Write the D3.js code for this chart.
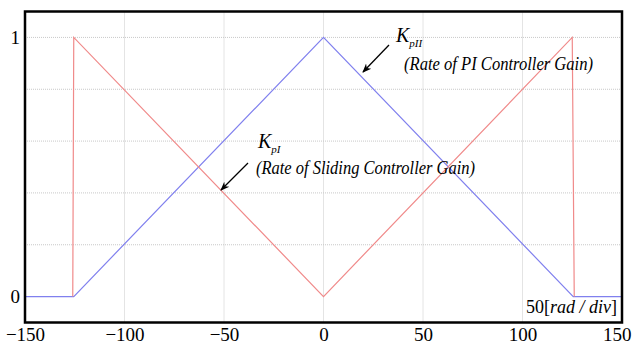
<!DOCTYPE html>
<html>
<head>
<meta charset="utf-8">
<script src="https://cdn.jsdelivr.net/npm/d3@7"></script>
<style>
  body { margin: 0; background: #fff; }
  svg { display: block; }
</style>
</head>
<body>
<div id="chart"></div>
<script>
// data
const xTicks = [-150, -100, -50, 0, 50, 100, 150];
const yTicks = [0, 1];
const yGrid = [0.2, 0.4, 0.6, 0.8, 1.0];
const xGrid = [-100, -50, 0, 50, 100];

// K_pII, rate of PI controller gain
const piX = [-150, -125.5, 0, 125.5, 150];
const piY = [0, 0, 1, 0, 0];
// K_pI, rate of sliding controller gain
const slX = [-126, -125.5, 0, 125, 126];
const slY = [0, 1, 0, 1, 0];

const width = 632, height = 345;
const plotLeft = 25, plotRight = 622, plotTop = 11.5, plotBottom = 322.5;
const serif = "Liberation Serif";

const svg = d3.select("#chart").append("svg")
  .attr("width", width)
  .attr("height", height);

const x = d3.scaleLinear().domain([-150, 150]).range([plotLeft, plotRight]);
const y = d3.scaleLinear().domain([-0.1, 1.1]).range([plotBottom, plotTop]);

// dotted grid
svg.append("g")
  .selectAll("line")
  .data(xGrid)
  .enter().append("line")
  .attr("x1", d => x(d)).attr("x2", d => x(d))
  .attr("y1", plotTop).attr("y2", plotBottom)
  .attr("stroke", "#c8c8c8")
  .attr("stroke-width", 1)
  .attr("stroke-dasharray", "1,1");

svg.append("g")
  .selectAll("line")
  .data(yGrid)
  .enter().append("line")
  .attr("x1", plotLeft).attr("x2", plotRight)
  .attr("y1", d => y(d)).attr("y2", d => y(d))
  .attr("stroke", "#c8c8c8")
  .attr("stroke-width", 1)
  .attr("stroke-dasharray", "1,1");

const line = d3.line().x(d => x(d[0])).y(d => y(d[1]));

svg.append("path")
  .datum(d3.zip(piX, piY))
  .attr("d", line)
  .attr("fill", "none")
  .attr("stroke", "#8080ee")
  .attr("stroke-width", 1.2);

svg.append("path")
  .datum(d3.zip(slX, slY))
  .attr("d", line)
  .attr("fill", "none")
  .attr("stroke", "#f08a8a")
  .attr("stroke-width", 1.2);

// frame
svg.append("rect")
  .attr("x", plotLeft).attr("y", plotTop)
  .attr("width", plotRight - plotLeft).attr("height", plotBottom - plotTop)
  .attr("fill", "none")
  .attr("stroke", "#000")
  .attr("stroke-width", 2.5);

const fmt = d => d < 0 ? "\u2212" + Math.abs(d) : String(d);

const xAxis = svg.append("g")
  .attr("transform", "translate(0," + plotBottom + ")")
  .call(d3.axisBottom(x).tickValues(xTicks).tickSize(0).tickPadding(5).tickFormat(fmt));
xAxis.select(".domain").remove();
xAxis.selectAll("text")
  .style("font-family", serif)
  .style("font-size", "19px")
  .attr("fill", "#000");
// the last label sits against the right edge of the page
xAxis.selectAll(".tick").filter(d => d === 150).select("text")
  .attr("text-anchor", "end").attr("x", 9);

const yAxis = svg.append("g")
  .attr("transform", "translate(" + plotLeft + ",0)")
  .call(d3.axisLeft(y).tickValues(yTicks).tickSize(0).tickPadding(5).tickFormat(fmt));
yAxis.select(".domain").remove();
yAxis.selectAll("text")
  .style("font-family", serif)
  .style("font-size", "19px")
  .attr("fill", "#000");

// annotations
svg.append("defs").append("marker")
  .attr("id", "head")
  .attr("viewBox", "0 0 10 10")
  .attr("refX", 9).attr("refY", 5)
  .attr("markerWidth", 7).attr("markerHeight", 7)
  .attr("orient", "auto")
  .append("path")
  .attr("d", "M0,1 L10,5 L0,9 L3,5 Z")
  .attr("fill", "#000");

function note(kx, ky, sub, tx, ty, text, tw, ax1, ay1, ax2, ay2) {
  const k = svg.append("text")
    .attr("x", kx).attr("y", ky)
    .style("font-family", serif)
    .style("font-style", "italic")
    .style("font-size", "20px");
  k.append("tspan").text("K");
  k.append("tspan").attr("dy", 5).style("font-size", "11px").text(sub);

  svg.append("text")
    .attr("x", tx).attr("y", ty)
    .style("font-family", serif)
    .style("font-style", "italic")
    .style("font-size", "19px")
    .attr("textLength", tw)
    .attr("lengthAdjust", "spacingAndGlyphs")
    .text(text);

  svg.append("line")
    .attr("x1", ax1).attr("y1", ay1)
    .attr("x2", ax2).attr("y2", ay2)
    .attr("stroke", "#000")
    .attr("stroke-width", 1.3)
    .attr("marker-end", "url(#head)");
}

note(258, 148, "pI", 256, 174, "(Rate of Sliding Controller Gain)", 219, 248, 163, 221, 190);
note(396, 42, "pII", 404, 70, "(Rate of PI Controller Gain)", 189, 389, 45, 363, 72);

const unit = svg.append("text")
  .attr("x", 617).attr("y", 313)
  .attr("text-anchor", "end")
  .style("font-family", serif)
  .style("font-size", "18px");
unit.append("tspan").text("50[");
unit.append("tspan").style("font-style", "italic").text("rad / div");
unit.append("tspan").text("]");
</script>
</body>
</html>
